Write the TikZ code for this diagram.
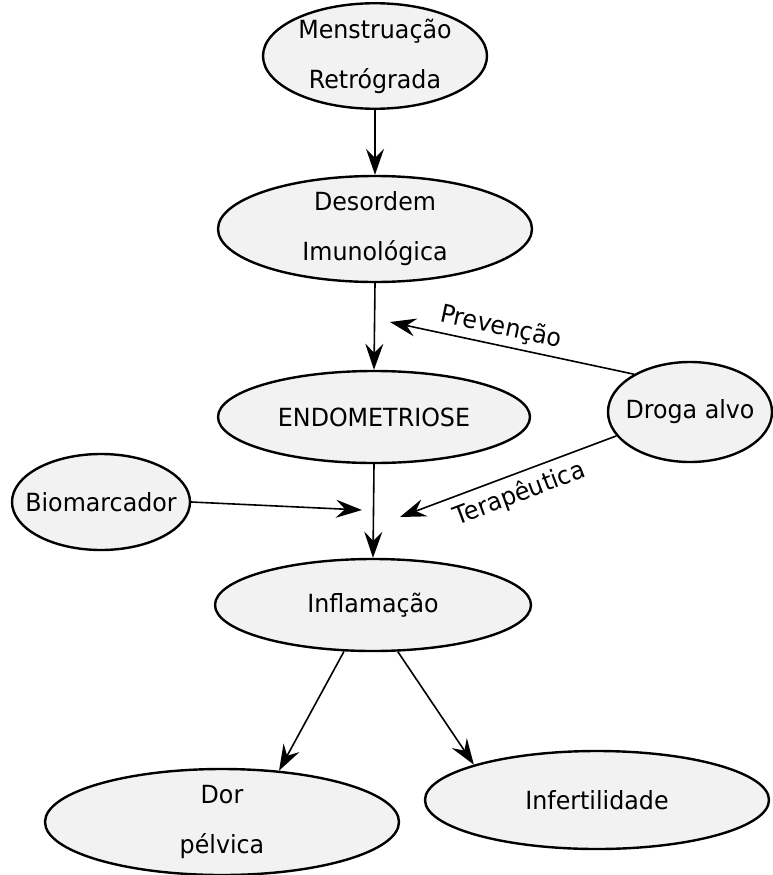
\documentclass[tikz,border=0pt]{standalone}
\usepackage{fontspec}
\setmainfont{DejaVu Sans}[FakeStretch=0.95]
\usetikzlibrary{shapes.geometric,arrows.meta}
\definecolor{nodefill}{HTML}{F2F2F2}
\tikzset{
  bubble/.style={ellipse, draw=black, line width=2.4pt, fill=nodefill, inner sep=0pt,
    align=center, font=\fontsize{25}{50}\selectfont},
  link/.style={line width=1.6pt, -{Stealth[length=26pt,width=18pt,inset=9pt]}},
  lbl/.style={font=\fontsize{25}{28}\selectfont, inner sep=0pt}
}
\newcommand{\slimtext}[1]{\makebox[0pt]{#1}}
\begin{document}
\begin{tikzpicture}[x=1pt,y=-1pt]
\useasboundingbox (0,0) rectangle (773,875);
\node[bubble, minimum width=224pt, minimum height=102pt] (men) at (375,56) {\slimtext{Menstruação}\\\slimtext{Retrógrada}};
\node[bubble, minimum width=314pt, minimum height=106pt] (des) at (375,229) {\slimtext{Desordem}\\\slimtext{Imunológica}};
\node[bubble, minimum width=312pt, minimum height=92pt] (endo) at (374,417) {\slimtext{ENDOMETRIOSE}};
\node[bubble, minimum width=164pt, minimum height=100pt] (drug) at (690,412) {\slimtext{Droga alvo}};
\node[bubble, minimum width=178pt, minimum height=96pt] (bio) at (101,502) {\slimtext{Biomarcador}};
\node[bubble, minimum width=316pt, minimum height=92pt] (inf) at (373,605) {\slimtext{Inflamação}};
\node[bubble, minimum width=354pt, minimum height=106pt] (dor) at (222,822) {\slimtext{Dor}\\\slimtext{pélvica}};
\node[bubble, minimum width=344pt, minimum height=98pt] (infert) at (597,800) {\slimtext{Infertilidade}};
\coordinate (prevEnd) at (390,322);
\coordinate (terEnd) at (400,517);
\coordinate (bioEnd) at (362,510);
\draw[link] (men.south) -- (des.north);
\draw[link] (des.south) -- (endo.north);
\draw[link] (endo.south) -- (inf.north);
\draw[link] (drug.146) -- node[lbl, pos=0.56, above=5pt, sloped] (prevLbl) {Prevenção} (prevEnd);
\draw[link] (drug.198) -- node[lbl, pos=0.48, below=7pt, sloped] (terLbl) {Terapêutica} (terEnd);
\draw[link] (bio.east) -- (bioEnd);
\draw[link] (inf.238) -- (dor.42);
\draw[link] (inf.298) -- (infert.164);
\end{tikzpicture}
\end{document}
